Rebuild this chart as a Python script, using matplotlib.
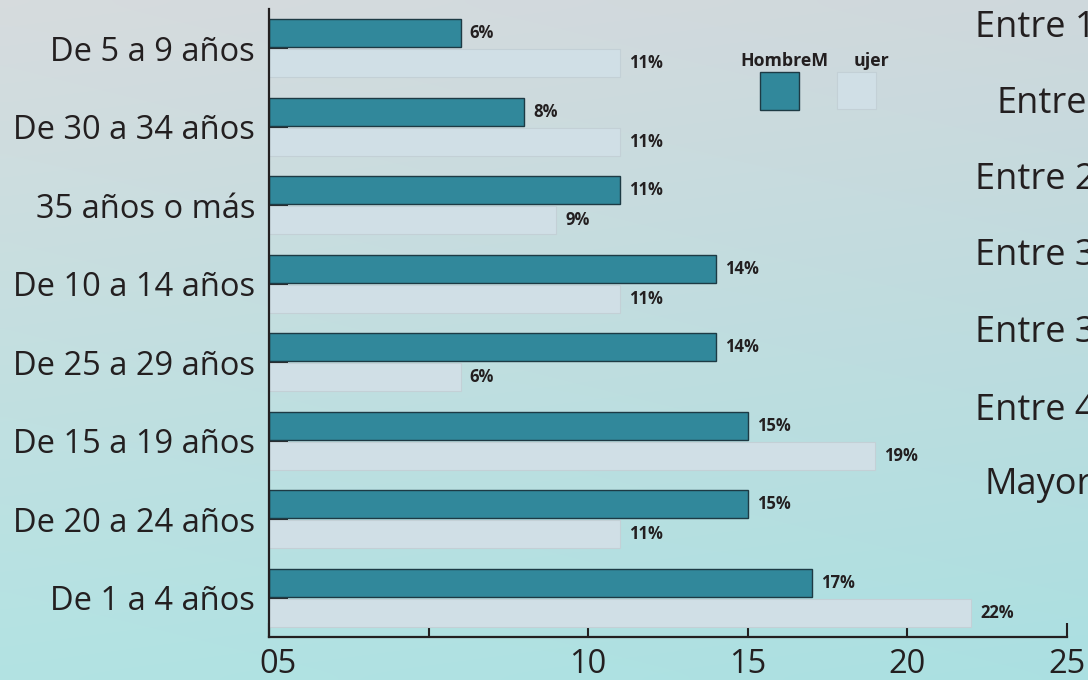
import numpy as np
import matplotlib
matplotlib.use('Agg')
from matplotlib import pyplot as plt
from matplotlib.patches import Rectangle
from matplotlib.transforms import ScaledTranslation

plt.rcParams['font.family'] = ['Open Sans', 'DejaVu Sans']

# Data, top to bottom as in the chart
categories = ['De 5 a 9 años', 'De 30 a 34 años', '35 años o más', 'De 10 a 14 años',
              'De 25 a 29 años', 'De 15 a 19 años', 'De 20 a 24 años', 'De 1 a 4 años']
hombre = [6, 8, 11, 14, 14, 15, 15, 17]
mujer = [11, 11, 9, 11, 6, 19, 11, 22]
xticks = [0, 5, 10, 15, 20, 25]
xtick_labels = ['05', '', '10', '15', '20', '25']
side_texts = ['Entre 1', 'Entre', 'Entre 2', 'Entre 3', 'Entre 3', 'Entre 4', 'Mayor']

W, H = 1088, 680
C_HOMBRE = '#31889b'
C_MUJER = '#d0dfe6'
INK = '#231f20'

fig = plt.figure(figsize=(W / 100, H / 100), dpi=100)

# background wash
bg = fig.add_axes([0, 0, 1, 1])
bg.axis('off')
yy, xx = np.mgrid[0:1:68j, 0:1:109j]
top = np.array([0.84, 0.86, 0.87])
bot = np.array([0.70, 0.89, 0.89])
grad = top[None, None, :] * (1 - yy[..., None]) + bot[None, None, :] * yy[..., None]
grad = grad - 0.03 * (xx[..., None] * np.array([1.0, 0.4, 0.2]))
bg.imshow(np.clip(grad, 0, 1), aspect='auto', extent=[0, 1, 0, 1], interpolation='bicubic')
bg.set_xlim(0, 1)
bg.set_ylim(0, 1)

ax = fig.add_axes([269 / W, (H - 637) / H, (1067 - 269) / W, (637 - 9) / H])
ax.set_facecolor('none')

n = len(categories)
y = np.arange(n)[::-1]
h = 0.36
ax.barh(y + 0.19, hombre, height=h, color=C_HOMBRE, edgecolor='#1d3a44', linewidth=1, zorder=2)
ax.barh(y - 0.19, mujer, height=h, color=C_MUJER, edgecolor='#c3d0d6', linewidth=0.8, zorder=2)

for yi, v in zip(y, hombre):
    ax.annotate(f'{v}%', (v, yi + 0.19), xytext=(6.5, 0), textcoords='offset points',
                va='center', ha='left', fontsize=12, fontweight='bold', color=INK)
for yi, v in zip(y, mujer):
    ax.annotate(f'{v}%', (v, yi - 0.19), xytext=(6.5, 0), textcoords='offset points',
                va='center', ha='left', fontsize=12, fontweight='bold', color=INK)

ax.set_xlim(0, 25)
ax.set_ylim(-0.5, n - 0.5)
ax.set_yticks(y)
ax.set_yticklabels(categories, fontsize=23.5, color=INK)
ax.set_xticks(xticks)
ax.set_xticklabels(xtick_labels, fontsize=23.5, color=INK)
ax.tick_params(axis='x', direction='in', length=10, width=1.5, pad=8, colors=INK)
ax.tick_params(axis='y', direction='in', length=13.5, width=1.5, pad=10, colors=INK)
lab0 = ax.get_xticklabels()[0]
lab0.set_transform(lab0.get_transform() + ScaledTranslation(9 / 100, 0, fig.dpi_scale_trans))
for s in ['top', 'right']:
    ax.spines[s].set_visible(False)
for s in ['left', 'bottom']:
    ax.spines[s].set_linewidth(1.6)
    ax.spines[s].set_color(INK)
for t in ax.get_xticklabels() + ax.get_yticklabels():
    t.set_color(INK)

# legend drawn by hand
fig.text(740 / W, 1 - 66 / H, 'HombreM', fontsize=12.8, fontweight='bold', color=INK, va='baseline')
fig.text(854 / W, 1 - 66 / H, 'ujer', fontsize=12.8, fontweight='bold', color=INK, va='baseline')
fig.patches.append(Rectangle((760 / W, 1 - 110 / H), 39 / W, 38 / H, transform=fig.transFigure,
                             facecolor=C_HOMBRE, edgecolor='#1d3a44', linewidth=1))
fig.patches.append(Rectangle((837 / W, 1 - 109 / H), 39 / W, 37 / H, transform=fig.transFigure,
                             facecolor=C_MUJER, edgecolor='#c3d0d6', linewidth=0.8))

# text cut off at the right edge, as in the source image
side_x = [975, 997, 975, 975, 975, 975, 984]
side_base = [37, 113, 189, 265, 342, 420, 494]
for s, sx, sy in zip(side_texts, side_x, side_base):
    fig.text(sx / W, 1 - sy / H, s, fontsize=26, color=INK, va='baseline', ha='left')

fig.savefig('out.png', dpi=100)
